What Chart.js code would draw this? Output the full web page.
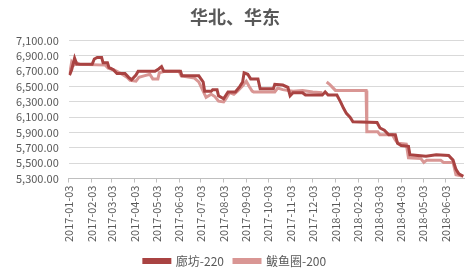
<!DOCTYPE html>
<html>
<head>
<meta charset="utf-8">
<script src="https://cdn.jsdelivr.net/npm/chart.js@4.4.0/dist/chart.umd.min.js"></script>
<style>
  html, body { margin: 0; padding: 0; background: #fff; }
  #wrap { width: 474px; height: 277px; }
</style>
</head>
<body>
<div id="wrap"><canvas id="chart"></canvas></div>
<script>
// 廊坊-220
var lfDates = ['2017-01-04','2017-01-07','2017-01-11','2017-01-14','2017-02-04','2017-02-07','2017-02-11','2017-02-17','2017-02-19','2017-02-25',
  '2017-02-27','2017-03-05','2017-03-10','2017-03-21','2017-03-26','2017-03-30','2017-04-05','2017-04-08','2017-05-01','2017-05-06',
  '2017-05-10','2017-05-13','2017-05-21','2017-06-05','2017-06-07','2017-06-30','2017-07-06','2017-07-08','2017-07-17','2017-07-19',
  '2017-07-25','2017-07-27','2017-08-03','2017-08-09','2017-08-19','2017-08-25','2017-08-29','2017-08-31','2017-09-05','2017-09-09',
  '2017-09-19','2017-09-22','2017-10-10','2017-10-12','2017-10-23','2017-10-30','2017-11-02','2017-11-06','2017-11-19','2017-11-23',
  '2017-12-16','2017-12-20','2017-12-24','2018-01-05','2018-01-10','2018-01-14','2018-01-18','2018-01-23','2018-01-27','2018-03-01',
  '2018-03-05','2018-03-11','2018-03-17','2018-03-26','2018-03-29','2018-04-03','2018-04-13','2018-04-15','2018-05-07','2018-05-21',
  '2018-06-07','2018-06-13','2018-06-17','2018-06-21','2018-06-27'];
var lfValues = [6650,6720,6870,6790,6790,6860,6880,6880,6810,6810,
  6750,6720,6670,6670,6620,6590,6650,6700,6700,6730,
  6760,6700,6700,6700,6640,6640,6560,6440,6440,6460,
  6460,6380,6340,6430,6430,6500,6560,6680,6660,6600,
  6600,6470,6470,6530,6520,6490,6380,6420,6420,6390,
  6390,6430,6390,6390,6300,6220,6150,6100,6040,6030,
  5960,5930,5870,5870,5760,5730,5720,5610,5590,5610,
  5600,5540,5420,5360,5330];

// 鲅鱼圈-200 (null = gap in the line)
var byqDates = ['2017-01-04','2017-01-07','2017-01-10','2017-01-14','2017-01-18','2017-02-22','2017-02-26','2017-03-05','2017-03-10','2017-03-17',
  '2017-03-24','2017-03-28','2017-04-05','2017-04-09','2017-04-16','2017-04-24','2017-04-28','2017-05-05','2017-05-07','2017-05-14',
  '2017-06-03','2017-06-06','2017-06-24','2017-06-30','2017-07-04','2017-07-10','2017-07-17','2017-07-22','2017-07-27','2017-08-03',
  '2017-08-06','2017-08-11','2017-08-17','2017-08-22','2017-08-30','2017-09-03','2017-09-07','2017-09-11','2017-09-13','2017-10-12',
  '2017-10-16','2017-10-23','2017-11-06','2017-11-19','2017-12-03','2017-12-16','2017-12-19','2017-12-22','2017-12-26','2017-12-30',
  '2018-01-03','2018-02-14','2018-02-15','2018-03-02','2018-03-05','2018-03-22','2018-03-26','2018-03-30','2018-04-10','2018-04-13',
  '2018-04-30','2018-05-04','2018-05-08','2018-05-27','2018-05-31','2018-06-13','2018-06-17','2018-06-27'];
var byqValues = [6650,6820,6780,6810,6790,6780,6740,6720,6700,6660,
  6620,6580,6570,6620,6640,6660,6600,6600,6680,6700,
  6700,6640,6610,6560,6480,6360,6400,6370,6310,6300,
  6340,6420,6400,6440,6520,6570,6500,6440,6430,6430,
  6480,6460,6440,6450,6430,6420,null,6560,6530,6490,
  6450,6450,5910,5910,5870,5870,5800,5760,5750,5570,
  5560,5510,5540,5540,5510,5510,5350,5330];

var tickDates = ['2017-01-03','2017-02-03','2017-03-03','2017-04-03','2017-05-03','2017-06-03','2017-07-03','2017-08-03','2017-09-03',
  '2017-10-03','2017-11-03','2017-12-03','2018-01-03','2018-02-03','2018-03-03','2018-04-03','2018-05-03','2018-06-03'];

var start = Date.UTC(2017, 0, 3);
function dayNum(s) {
  var p = s.split('-');
  return (Date.UTC(+p[0], +p[1] - 1, +p[2]) - start) / 86400000;
}
function toPoints(dates, vals) {
  return dates.map(function (d, i) { return { x: dayNum(d), y: vals[i] }; });
}

var labelColor = '#595959';
var font = '"Noto Sans CJK SC", "Liberation Sans", sans-serif';

new Chart(document.getElementById('chart'), {
  type: 'line',
  data: {
    datasets: [
      { label: '廊坊-220', data: toPoints(lfDates, lfValues), borderColor: '#a94342', backgroundColor: '#a94342',
        borderWidth: 3, pointRadius: 0, tension: 0, spanGaps: false },
      { label: '鲅鱼圈-200', data: toPoints(byqDates, byqValues), borderColor: '#d99694', backgroundColor: '#d99694',
        borderWidth: 3, pointRadius: 0, tension: 0, spanGaps: false }
    ]
  },
  options: {
    responsive: true,
    maintainAspectRatio: false,
    animation: false,
    layout: { padding: { left: 6, right: 10, top: 0, bottom: 0 } },
    plugins: {
      title: {
        display: true, text: '华北、华东', color: labelColor,
        font: { family: font, size: 18, weight: 'bold' }, padding: { top: 6, bottom: 13 }
      },
      legend: {
        position: 'bottom',
        labels: { color: labelColor, font: { family: font, size: 12 }, boxWidth: 26, boxHeight: 3, padding: 10 }
      },
      tooltip: { enabled: false }
    },
    scales: {
      x: {
        type: 'linear', min: 0, max: 541,
        afterBuildTicks: function (scale) {
          scale.ticks = tickDates.map(function (d) { return { value: dayNum(d) }; });
        },
        ticks: {
          autoSkip: false, maxRotation: 90, minRotation: 90, color: labelColor,
          font: { family: font, size: 11 },
          callback: function (v) {
            var i = tickDates.findIndex(function (d) { return dayNum(d) === v; });
            return i >= 0 ? tickDates[i] : '';
          }
        },
        grid: { display: true, drawOnChartArea: false, drawTicks: true, tickLength: 4, color: '#bfbfbf' },
        border: { color: '#bfbfbf' }
      },
      y: {
        min: 5300, max: 7100,
        ticks: {
          autoSkip: false, stepSize: 200, color: labelColor, font: { family: font, size: 11 }, padding: 10,
          callback: function (v) { return v.toLocaleString('en-US', { minimumFractionDigits: 2, maximumFractionDigits: 2 }); }
        },
        grid: { color: '#d9d9d9', drawTicks: false },
        border: { display: false }
      }
    }
  }
});
</script>
</body>
</html>
